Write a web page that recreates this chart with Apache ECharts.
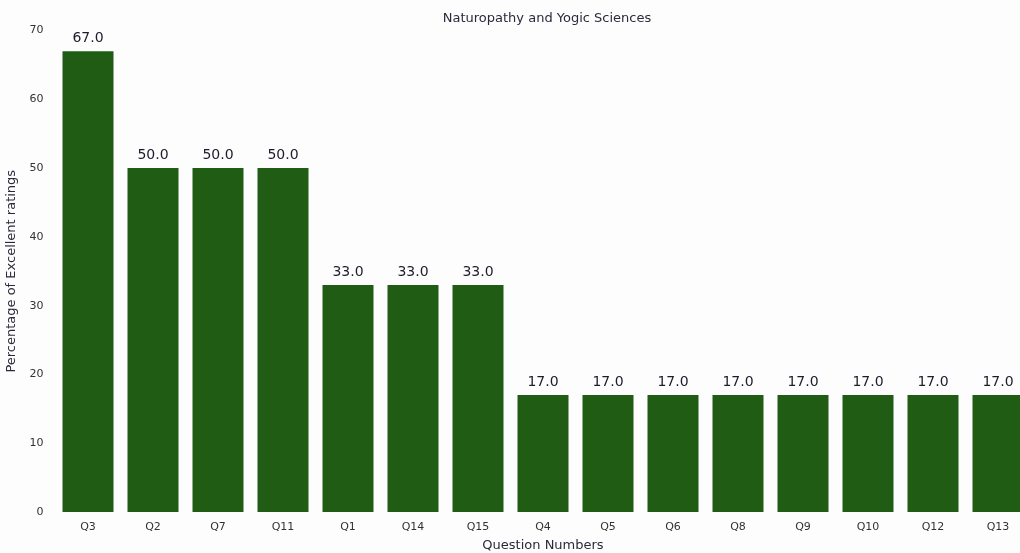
<!DOCTYPE html>
<html><head><meta charset="utf-8">
<script src="https://cdn.jsdelivr.net/npm/echarts@6/dist/echarts.min.js"></script>
<style>html,body{margin:0;padding:0;background:#fff}#c{width:1020px;height:553px}</style>
</head><body><div id="c"></div>
<script>
const categories = ["Q3","Q2","Q7","Q11","Q1","Q14","Q15","Q4","Q5","Q6","Q8","Q9","Q10","Q12","Q13"];
const values = [67.0,50.0,50.0,50.0,33.0,33.0,33.0,17.0,17.0,17.0,17.0,17.0,17.0,17.0,17.0];
const yTicks = [0,10,20,30,40,50,60,70];

const chart = echarts.init(document.getElementById('c'), null, {renderer:'canvas'});
chart.setOption({
  backgroundColor:'#fdfdfe',
  animation:false,
  title:{text:'Naturopathy and Yogic Sciences',left:542,top:7,textAlign:'center',
    textStyle:{fontFamily:'DejaVu Sans',fontSize:13,fontWeight:'normal',color:'#2a2a3a'}},
  grid:{left:55.5,width:975,top:30.5,height:481.5,containLabel:false,outerBoundsMode:'none'},
  xAxis:{type:'category',data:categories,
    axisLine:{show:false},axisTick:{show:false},
    axisLabel:{fontFamily:'DejaVu Sans',fontSize:11,color:'#333',margin:10},
    name:'Question Numbers',nameLocation:'middle',nameGap:27,
    nameTextStyle:{fontFamily:'DejaVu Sans',fontSize:13,color:'#2a2a3a'}},
  yAxis:{type:'value',min:yTicks[0],max:yTicks[yTicks.length-1],interval:10,
    axisLine:{show:false},axisTick:{show:false},splitLine:{show:false},
    axisLabel:{fontFamily:'DejaVu Sans',fontSize:11,color:'#333',margin:12},
    name:'Percentage of Excellent ratings',nameLocation:'middle',nameGap:31,
    nameTextStyle:{fontFamily:'DejaVu Sans',fontSize:13,color:'#2a2a3a'}},
  series:[{type:'bar',data:values,barWidth:51,
    itemStyle:{color:'#215c15'},
    label:{show:true,position:'top',distance:6,formatter:p=>p.value.toFixed(1),
      fontFamily:'DejaVu Sans',fontSize:14,color:'#1c1c2c'}}]
});
</script></body></html>
